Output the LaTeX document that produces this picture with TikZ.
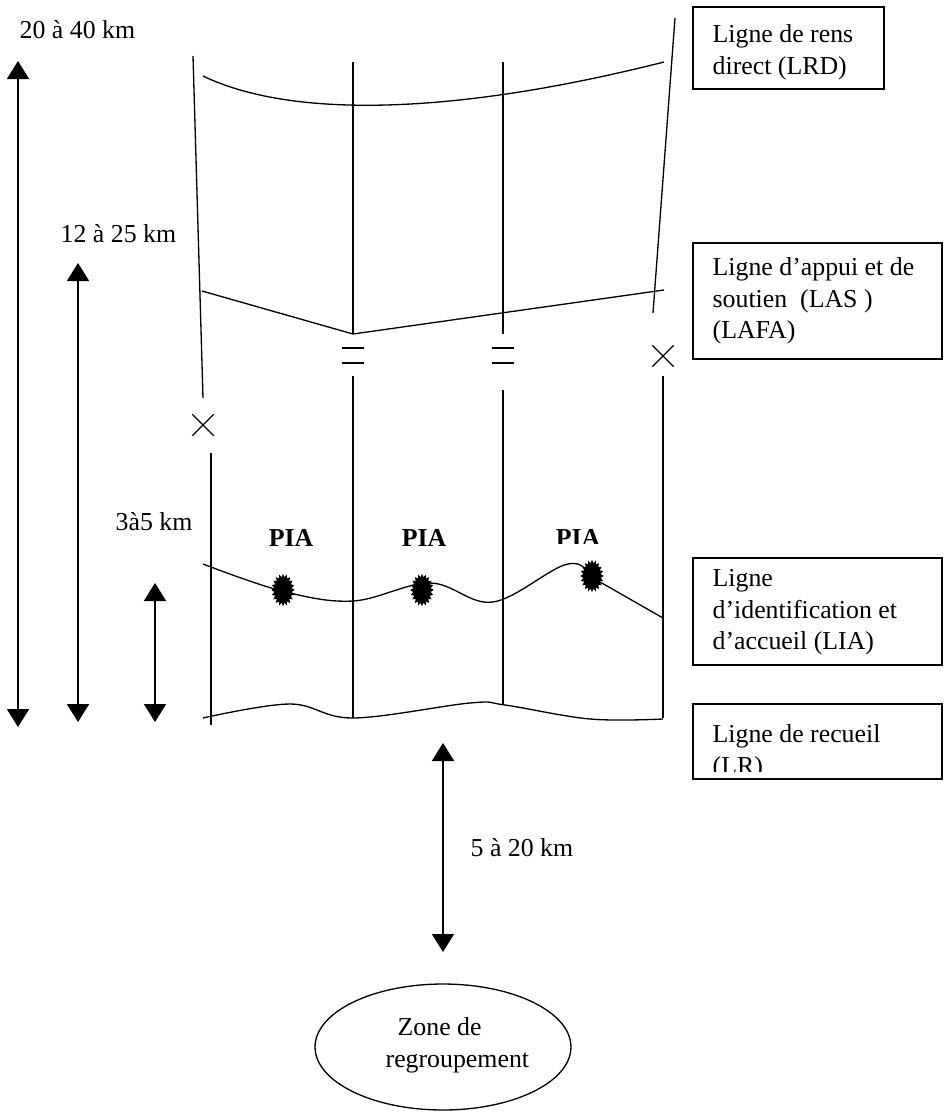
\documentclass[tikz,border=0pt]{standalone}
\usepackage{fontspec}
\setmainfont{Liberation Serif}
\usetikzlibrary{arrows.meta,shapes.geometric,shapes.misc,shapes.symbols}

\begin{document}
\begin{tikzpicture}[x=0.02cm, y=-0.02cm, line width=0.75pt,
  every node/.style={font=\fontsize{14.7}{17.9}\selectfont, inner sep=0pt},
  dimarrow/.style={{Triangle[width=0.44cm,length=0.36cm]}-{Triangle[width=0.44cm,length=0.36cm]}, line width=1pt},
  legendbox/.style={draw, line width=0.9pt, anchor=north west},
  legendtext/.style={anchor=north west, align=left},
  piatext/.style={font=\fontsize{14.7}{17.9}\selectfont\bfseries, anchor=base},
  piadot/.style={starburst, fill=black, draw=black, starburst points=20,
    starburst point height=1.6pt, random starburst=0,
    minimum width=0.42cm, minimum height=0.58cm},
  cut/.style={cross out, draw, minimum size=0.4cm, line width=0.75pt}]

\useasboundingbox (0,0) rectangle (948,1113);

%% ── Distance arrows (left) ───────────────────────────────────────────────────
\node[anchor=base west] (d2040) at (19,38) {20 à 40 km};
\coordinate (a1top) at (18,61);
\coordinate (a1bot) at (18,727);
\draw[dimarrow] (a1top) -- (a1bot);

\node[anchor=base west] (d1225) at (60,242) {12 à 25 km};
\coordinate (a2top) at (78,263);
\coordinate (a2bot) at (78,722);
\draw[dimarrow] (a2top) -- (a2bot);

\node[anchor=base west] (d35) at (115,530) {3à5 km};
\coordinate (a3top) at (155,583);
\coordinate (a3bot) at (155,722);
\draw[dimarrow] (a3top) -- (a3bot);

%% ── Sector boundaries ────────────────────────────────────────────────────────
%% left boundary, cut
\draw (193,56) -- (203,398);
\node[cut] (cut1) at (203,425) {};
\draw (211,453) -- (211,725);

%% two middle boundaries, with "=" marks
\foreach \x in {353, 503}{
  \draw (\x,62) -- (\x,334);
  \draw (\x-11,348) -- (\x+11,348);
  \draw (\x-11,363) -- (\x+11,363);
}
\draw (353,376) -- (353,718);
\draw (503,390) -- (503,704);

%% right boundary, cut
\draw (675,18) -- (653,313);
\node[cut] (cut2) at (663,356) {};
\draw (663,376) -- (663,718);

%% ── Lines across the sectors ─────────────────────────────────────────────────
%% LRD
\draw (203,76) .. controls (290,118) and (450,116) .. (664,62);
%% LAS
\draw (202,291) -- (353,334) -- (664,290);
%% LIA
\draw plot[smooth, tension=0.6] coordinates
  {(203,564) (282,591) (353,601) (430,583) (493,602) (568,564) (600,582) (663,618)};
%% LR
\draw plot[smooth, tension=0.6] coordinates
  {(203,718) (290,704) (353,718) (470,703) (505,705) (590,719) (663,719)};

%% ── PIA ──────────────────────────────────────────────────────────────────────
\node[piadot] (dot1) at (283,590) {};
\node[piadot] (dot2) at (422,590) {};
\node[piadot] (dot3) at (592,576) {};
\node[piatext] (pia1) at (291,546) {PIA};
\node[piatext] (pia2) at (424,546) {PIA};
\begin{scope}
  \clip (540,500) rectangle (620,543);
  \node[piatext] (pia3) at (578,546) {PIA};
\end{scope}

%% ── Legend boxes (right) ─────────────────────────────────────────────────────
\node[legendbox, minimum width=3.82cm, minimum height=1.64cm] (lrd) at (692,6) {};
\node[legendtext] (lrdtext) at (712,24) {Ligne de rens\\direct (LRD)};

\node[legendbox, minimum width=4.98cm, minimum height=2.32cm] (las) at (692,242) {};
\node[legendtext] (lastext) at (712,257) {Ligne d’appui et de\\soutien\ \ (LAS\ )\\(LAFA)};

\node[legendbox, minimum width=4.98cm, minimum height=2.14cm] (lia) at (692,557) {};
\node[legendtext] (liatext) at (712,569) {Ligne\\d’identification et\\d’accueil (LIA)};

\node[legendbox, minimum width=4.98cm, minimum height=1.5cm] (lr) at (692,703) {};
\begin{scope}
  \clip (692,703) rectangle (941,771);
  \node[legendtext] (lrtext) at (712,724) {Ligne de recueil\\(LR)};
\end{scope}

%% ── Regrouping zone ──────────────────────────────────────────────────────────
\coordinate (a4top) at (443,743);
\coordinate (a4bot) at (443,952);
\draw[dimarrow] (a4top) -- (a4bot);
\node[anchor=base west] (d520) at (470,856) {5 à 20 km};

\node[ellipse, draw, minimum width=5.12cm, minimum height=2.52cm] (zone) at (443,1047) {};
\node[legendtext] (zonetext) at (385,1017) {\hspace*{0.24cm}Zone de\\regroupement};

\end{tikzpicture}
\end{document}
